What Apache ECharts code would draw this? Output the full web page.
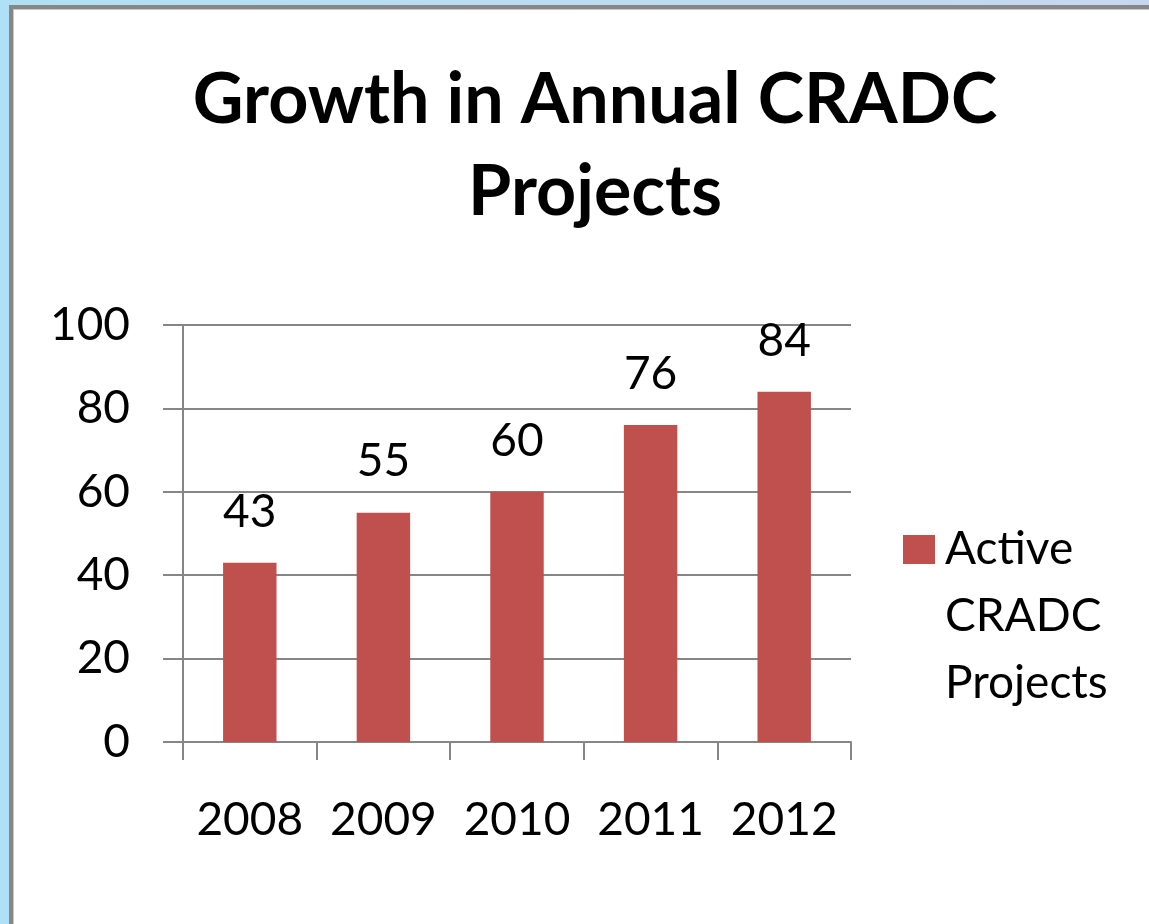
<!DOCTYPE html>
<html>
<head>
<meta charset="utf-8">
<script src="https://cdn.jsdelivr.net/npm/echarts@6/dist/echarts.min.js"></script>
<style>
html,body{margin:0;padding:0;background:#fff;}
#chart{width:1149px;height:924px;}
</style>
</head>
<body>
<div id="chart"></div>
<script>
var categories = ['2008', '2009', '2010', '2011', '2012'];
var activeProjects = [43, 55, 60, 76, 84];
var seriesName = 'Active\nCRADC\nProjects';
var titleText = 'Growth in Annual CRADC\nProjects';

var chart = echarts.init(document.getElementById('chart'));
var FONT = 'Lato';
var GRID = '#868686';
chart.setOption({
  animation: false,
  backgroundColor: '#ffffff',
  graphic: [
    {type:'rect', shape:{x:0,y:0,width:9,height:924}, style:{fill:'#b0e0f5'}, silent:true, z:100},
    {type:'rect', shape:{x:0,y:0,width:1149,height:5}, style:{fill:{type:'linear',x:0,y:0,x2:1,y2:0,colorStops:[{offset:0,color:'#b0e0f5'},{offset:1,color:'#c6d8ee'}]}}, silent:true, z:100},
    {type:'rect', shape:{x:9,y:5,width:4,height:919}, style:{fill:'#878787'}, silent:true, z:100},
    {type:'rect', shape:{x:9,y:5,width:1140,height:4}, style:{fill:'#878787'}, silent:true, z:100},
    {type:'rect', shape:{x:13,y:9,width:1,height:915}, style:{fill:'#c8c8c8'}, silent:true, z:100},
    {type:'rect', shape:{x:13,y:9,width:1136,height:1}, style:{fill:'#c8c8c8'}, silent:true, z:100}
  ],
  title: {
    text: titleText,
    left: 590,
    textAlign: 'center',
    top: 49,
    textStyle: {fontFamily: FONT, fontWeight: 'bold', fontSize: 70, lineHeight: 92, color: '#000'}
  },
  legend: {
    orient: 'vertical',
    left: 903,
    top: 516,
    padding: 0,
    itemWidth: 32,
    itemHeight: 201,
    itemGap: 8,
    data: [seriesName],
    textStyle: {fontFamily: FONT, fontSize: 46, lineHeight: 67, color: '#000', padding:[0,0,0,5]},
    icon: 'path://M0,19h32v29h-32Z M0,0h0.01v0.01h-0.01Z M0,201h0.01v0.01h-0.01Z',
    itemStyle: {borderWidth: 0}
  },
  grid: {left: 183, right: 298, top: 325, bottom: 182, containLabel: false},
  xAxis: {
    type: 'category',
    data: categories,
    axisLine: {show: true, lineStyle: {color: GRID, width: 2}},
    axisTick: {show: true, length: 18, interval: 0, lineStyle: {color: GRID, width: 2}},
    axisLabel: {fontFamily: FONT, fontSize: 46, color: '#000', margin: 55, interval: 0}
  },
  yAxis: {
    type: 'value',
    min: 0, max: 100, interval: 20,
    axisLine: {show: true, lineStyle: {color: GRID, width: 2}},
    axisTick: {show: true, length: 20, lineStyle: {color: GRID, width: 2}},
    splitLine: {show: true, lineStyle: {color: GRID, width: 2}},
    axisLabel: {fontFamily: FONT, fontSize: 46, color: '#000', margin: 53}
  },
  series: [{
    name: seriesName,
    type: 'bar',
    data: activeProjects,
    barWidth: '40%',
    itemStyle: {color: '#c0504d'},
    label: {show: true, position: 'top', distance: 28, fontFamily: FONT, fontSize: 46, color: '#000'}
  }]
});
</script>
</body>
</html>
